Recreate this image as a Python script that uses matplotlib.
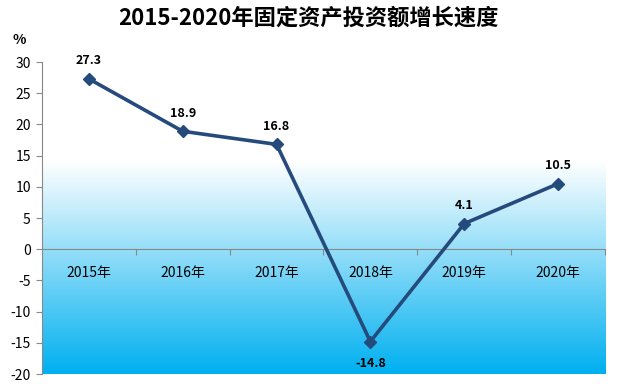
import matplotlib
matplotlib.use("Agg")
import matplotlib.pyplot as plt
import numpy as np
from matplotlib.colors import LinearSegmentedColormap

plt.rcParams['font.family'] = ['Noto Sans CJK SC', 'DejaVu Sans']
plt.rcParams['axes.unicode_minus'] = False

# data
years = ['2015年', '2016年', '2017年', '2018年', '2019年', '2020年']
growth = [27.3, 18.9, 16.8, -14.8, 4.1, 10.5]
title = '2015-2020年固定资产投资额增长速度'

fig = plt.figure(figsize=(6.17, 3.84), dpi=100)
ax = fig.add_axes([0.068, 0.026, 0.9125, 0.8125])

x = np.arange(len(years))
ax.set_xlim(-0.5, len(years) - 0.5)
ax.set_ylim(-20, 30)

# gradient background: white above ~14, to blue at bottom
cmap = LinearSegmentedColormap.from_list('bg', [(0, '#00B0F0'), (34 / 50, '#FFFFFF'), (1, '#FFFFFF')])
grad = np.linspace(0, 1, 256).reshape(-1, 1)
ax.imshow(grad, cmap=cmap, aspect='auto', origin='lower',
          extent=[-0.5, len(years) - 0.5, -20, 30], zorder=0)

line_color = '#254A7C'
ax.plot(x, growth, color=line_color, lw=2.6, marker='D', ms=6.5,
        mec=line_color, mfc=line_color, zorder=3)

for xi, v in zip(x, growth):
    off = -16 if v < 0 else 13
    ax.annotate(f'{v}', (xi, v), xytext=(0, off), textcoords='offset points',
                ha='center', va='center', fontsize=9, fontweight='bold', color='black')

# axes styling
for s in ['top', 'right']:
    ax.spines[s].set_visible(False)
ax.spines['bottom'].set_position(('data', 0))
ax.spines['bottom'].set_color('#888888')
ax.spines['left'].set_color('#888888')
ax.spines['bottom'].set_zorder(2)

ax.set_yticks(np.arange(-20, 31, 5))
ax.tick_params(axis='y', direction='out', length=4, color='#888888', labelsize=10, pad=4)

ax.set_xticks(np.arange(0.5, len(years), 1))
ax.set_xticklabels([])
ax.tick_params(axis='x', which='major', direction='out', length=4, color='#888888')
ax.set_xticks(x, minor=True)
ax.set_xticklabels(years, minor=True)
ax.tick_params(axis='x', which='minor', length=0, labelsize=10, pad=12)

fig.text(0.5, 0.953, title, ha='center', va='center', fontsize=16, fontweight='bold')
fig.text(0.032, 0.895, '%', ha='center', va='center', fontsize=10, fontweight='bold')

fig.savefig('out.png', dpi=100)
